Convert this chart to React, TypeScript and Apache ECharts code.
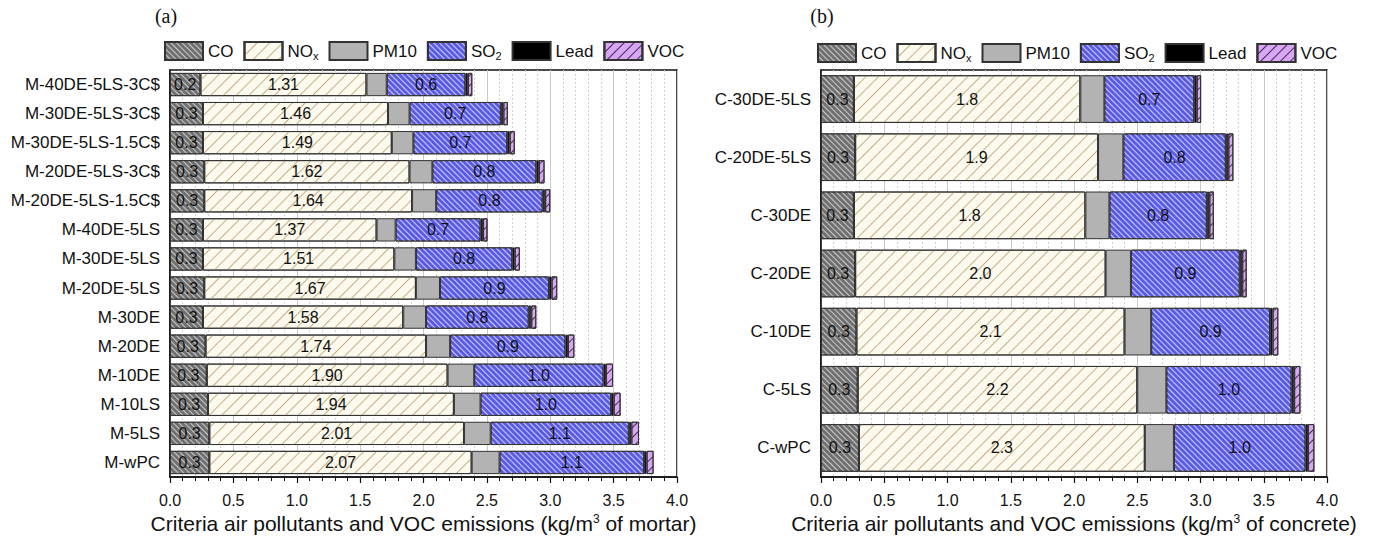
import React, { useEffect, useRef } from 'react';
import * as echarts from 'echarts';

// Pollutant order used for stacking and legends
const pollutants = ['CO', 'NOx', 'PM10', 'SO2', 'Lead', 'VOC'];

// (a) mortar mixes, kg per m3 of mortar
const mortarMixes = [
  'M-40DE-5LS-3C$', 'M-30DE-5LS-3C$', 'M-30DE-5LS-1.5C$', 'M-20DE-5LS-3C$',
  'M-20DE-5LS-1.5C$', 'M-40DE-5LS', 'M-30DE-5LS', 'M-20DE-5LS',
  'M-30DE', 'M-20DE', 'M-10DE', 'M-10LS', 'M-5LS', 'M-wPC',
];
const mortarCO = [0.24, 0.26, 0.26, 0.27, 0.27, 0.26, 0.26, 0.27, 0.26, 0.28, 0.29, 0.30, 0.31, 0.31];
const mortarNOx = [1.31, 1.46, 1.49, 1.62, 1.64, 1.37, 1.51, 1.67, 1.58, 1.74, 1.90, 1.94, 2.01, 2.07];
const mortarPM10 = [0.16, 0.17, 0.17, 0.18, 0.19, 0.15, 0.17, 0.19, 0.18, 0.19, 0.21, 0.21, 0.21, 0.22];
const mortarSO2 = [0.62, 0.72, 0.74, 0.82, 0.84, 0.67, 0.76, 0.86, 0.81, 0.91, 1.02, 1.03, 1.09, 1.14];
const mortarLead = [0.02, 0.02, 0.02, 0.02, 0.02, 0.02, 0.02, 0.02, 0.02, 0.02, 0.02, 0.02, 0.02, 0.02];
const mortarVOC = [0.035, 0.035, 0.04, 0.045, 0.04, 0.035, 0.04, 0.045, 0.04, 0.05, 0.055, 0.055, 0.06, 0.055];

// (b) concrete mixes, kg per m3 of concrete
const concreteMixes = ['C-30DE-5LS', 'C-20DE-5LS', 'C-30DE', 'C-20DE', 'C-10DE', 'C-5LS', 'C-wPC'];
const concreteCO = [0.26, 0.27, 0.26, 0.27, 0.28, 0.29, 0.30];
const concreteNOx = [1.79, 1.92, 1.83, 1.98, 2.12, 2.21, 2.26];
const concretePM10 = [0.19, 0.20, 0.19, 0.20, 0.21, 0.23, 0.23];
const concreteSO2 = [0.71, 0.81, 0.77, 0.86, 0.94, 0.99, 1.04];
const concreteLead = [0.02, 0.02, 0.02, 0.02, 0.02, 0.02, 0.02];
const concreteVOC = [0.035, 0.04, 0.035, 0.035, 0.045, 0.05, 0.05];

const xMin = 0;
const xMax = 4;
const xStep = 0.5;

const FONT = '"Liberation Sans", Arial, Helvetica, sans-serif';
const INK = '#111';

// Diagonal stripes: positive rotation gives "\" lines, negative gives "/"
const stripes = (color: string, width: number, gap: number, rotation: number) => ({
  symbol: 'rect',
  symbolSize: 1,
  dashArrayX: [1, 0],
  dashArrayY: [width, gap],
  rotation,
  color,
});

// Fill and hatch for each pollutant
const fills: Record<string, any> = {
  CO: { color: '#707070', decal: stripes('rgba(225,225,225,0.8)', 1, 3, Math.PI / 4) },
  NOx: { color: '#fcfaee', decal: stripes('#c6b083', 1, 8, -Math.PI / 4) },
  PM10: { color: '#b3b3b3' },
  SO2: { color: '#5b5be6', decal: stripes('rgba(228,228,255,0.85)', 1, 3, Math.PI / 4) },
  Lead: { color: '#000000' },
  VOC: { color: '#d7a7f3', decal: stripes('#4a2a5a', 1, 6, -Math.PI / 4) },
};

const labelStyle = (digits: number) => ({
  show: true,
  position: 'inside',
  color: INK,
  fontSize: 16,
  fontFamily: FONT,
  formatter: (p: any) => Number(p.value).toFixed(digits),
});

function panelSeries(idx: number, cols: number[][], noxDigits: number) {
  return pollutants.map((name, k) => {
    const s: any = {
      type: 'bar',
      name,
      stack: 'panel' + idx,
      xAxisIndex: idx,
      yAxisIndex: idx,
      barCategoryGap: idx === 0 ? '20%' : '18%',
      data: cols[k],
      itemStyle: { ...fills[name], borderColor: '#333', borderWidth: 1 },
      label: { show: false },
      emphasis: { disabled: true },
    };
    if (name === 'CO' || name === 'SO2') s.label = labelStyle(1);
    if (name === 'NOx') s.label = labelStyle(noxDigits);
    return s;
  });
}

const legendText = (name: string) =>
  name === 'NOx' ? 'NO{sub|x}' : name === 'SO2' ? 'SO{sub|2}' : name;

const legendBase = {
  data: pollutants,
  orient: 'horizontal',
  itemWidth: 38,
  itemHeight: 18,
  itemGap: 10,
  padding: 0,
  selectedMode: false,
  icon: 'rect',
  formatter: legendText,
  textStyle: {
    fontSize: 17,
    fontFamily: FONT,
    color: INK,
    rich: { sub: { fontSize: 11, fontFamily: FONT, color: INK, padding: [10, 0, 0, 0] } },
  },
};

function valueAxis(idx: number, unit: string) {
  return {
    type: 'value',
    gridIndex: idx,
    min: xMin,
    max: xMax,
    interval: xStep,
    name: 'Criteria air pollutants and VOC emissions (kg/m{sup|3} of ' + unit + ')',
    nameLocation: 'middle',
    nameGap: 35,
    nameTextStyle: {
      fontSize: 21,
      fontFamily: FONT,
      color: INK,
      rich: { sup: { fontSize: 12, fontFamily: FONT, color: INK, padding: [0, 0, 10, 0] } },
    },
    axisLine: { show: true, lineStyle: { color: '#111', width: 1.5 } },
    axisTick: { show: true, length: 6, lineStyle: { color: '#111', width: 1.2 } },
    minorTick: { show: true, splitNumber: 5, length: 4, lineStyle: { color: '#111', width: 1 } },
    axisLabel: {
      fontSize: 16,
      fontFamily: FONT,
      color: INK,
      margin: 15,
      formatter: (v: number) => v.toFixed(1),
    },
    splitLine: { show: true, lineStyle: { color: '#c9c9c9', width: 1 } },
    minorSplitLine: { show: true, lineStyle: { color: '#d2d2d2', width: 1, type: [2, 2] } },
  };
}

function categoryAxis(idx: number, cats: string[]) {
  return {
    type: 'category',
    gridIndex: idx,
    data: cats,
    inverse: true,
    axisLine: { show: true, lineStyle: { color: '#111', width: 1.5 } },
    axisTick: { show: false },
    axisLabel: { fontSize: 17, fontFamily: FONT, color: INK, margin: 10 },
    splitLine: { show: false },
  };
}

export default function App() {
  const ref = useRef<HTMLDivElement>(null);

  useEffect(() => {
    document.body.style.margin = '0';
    if (!ref.current) return;
    const chart = echarts.init(ref.current, null, { renderer: 'svg' });

    const mortarCols = [mortarCO, mortarNOx, mortarPM10, mortarSO2, mortarLead, mortarVOC];
    const concreteCols = [concreteCO, concreteNOx, concretePM10, concreteSO2, concreteLead, concreteVOC];

    chart.setOption({
      animation: false,
      backgroundColor: '#ffffff',
      textStyle: { fontFamily: FONT },
      graphic: [
        {
          type: 'text', x: 166, y: 16,
          style: { text: '(a)', font: '20px "Liberation Serif", "Times New Roman", serif', fill: INK,
            textAlign: 'center', textVerticalAlign: 'middle', align: 'center', verticalAlign: 'middle' },
        },
        {
          type: 'text', x: 822, y: 16,
          style: { text: '(b)', font: '20px "Liberation Serif", "Times New Roman", serif', fill: INK,
            textAlign: 'center', textVerticalAlign: 'middle', align: 'center', verticalAlign: 'middle' },
        },
      ],
      legend: [
        { ...legendBase, left: 164, top: 41 },
        { ...legendBase, left: 817, top: 43 },
      ],
      grid: [
        { left: 170, top: 70, width: 507, height: 407, show: true, borderColor: '#111', borderWidth: 1.5, backgroundColor: '#fff' },
        { left: 821, top: 70, width: 506, height: 407, show: true, borderColor: '#111', borderWidth: 1.5, backgroundColor: '#fff' },
      ],
      xAxis: [valueAxis(0, 'mortar'), valueAxis(1, 'concrete')],
      yAxis: [categoryAxis(0, mortarMixes), categoryAxis(1, concreteMixes)],
      series: [...panelSeries(0, mortarCols, 2), ...panelSeries(1, concreteCols, 1)],
    });

    return () => chart.dispose();
  }, []);

  return <div ref={ref} style={{ width: 1382, height: 545 }} />;
}
